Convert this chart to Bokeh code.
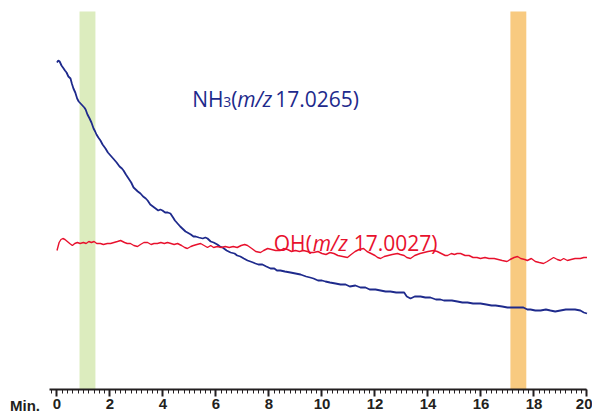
from bokeh.plotting import figure
from bokeh.models import Range1d, BoxAnnotation, Label, LinearAxis, SingleIntervalTicker, Div
from bokeh.layouts import row
from bokeh.embed import file_html
from bokeh.resources import INLINE

# ---- data (time in min, intensity in arbitrary units) ----
nh3_t = [0.00, 0.05, 0.10, 0.17, 0.25, 0.30, 0.36, 0.43, 0.51, 0.56, 0.62, 0.69, 0.76, 0.82, 0.89, 0.96,
         1.03, 1.08, 1.15, 1.23, 1.30, 1.38, 1.44, 1.49, 1.56, 1.64, 1.72, 1.83, 1.92, 2.02, 2.12, 2.25,
         2.36, 2.45, 2.51, 2.60, 2.70, 2.80, 2.89, 2.97, 3.05, 3.15, 3.25, 3.35, 3.42, 3.52, 3.62, 3.72,
         3.82, 3.90, 3.98, 4.08, 4.18, 4.28, 4.38, 4.45, 4.55, 4.65, 4.77, 4.85, 4.92, 5.05, 5.15, 5.23,
         5.35, 5.50, 5.60, 5.68, 5.80, 5.91, 6.05, 6.15, 6.25, 6.40, 6.55, 6.70, 6.80, 6.92, 7.05, 7.19,
         7.30, 7.40, 7.49, 7.60, 7.75, 7.90, 8.06, 8.20, 8.30, 8.43, 8.60, 8.81, 9.00, 9.19, 9.40, 9.55,
         9.68, 9.85, 10.00, 10.13, 10.30, 10.51, 10.70, 10.89, 11.05, 11.26, 11.45, 11.64, 11.80, 12.02,
         12.21, 12.40, 12.58, 12.80, 12.96, 13.10, 13.20, 13.34, 13.50, 13.72, 13.90, 14.09, 14.30, 14.47,
         14.60, 14.74, 14.90, 15.11, 15.30, 15.49, 15.70, 15.98, 16.20, 16.40, 16.55, 16.80, 17.00, 17.11,
         17.30, 17.60, 17.75, 17.87, 18.05, 18.25, 18.45, 18.62, 18.80, 19.00, 19.20, 19.38, 19.55, 19.75,
         19.88, 20.00]
nh3_v = [326, 328, 327, 323, 320, 318, 316, 312, 310, 305, 300, 296, 290, 287, 285, 283,
         281, 279, 274, 270, 266, 260, 257, 254, 251, 248, 244, 240, 236, 233, 230, 226,
         222, 220, 218, 214, 210, 206, 201, 199, 197, 195, 192, 190, 188, 184, 182, 180,
         178, 179, 178, 176, 176, 175, 171, 168, 165, 162, 159, 157, 156, 154, 152, 152,
         151, 150, 151, 150, 147, 146, 144, 142, 141, 138, 136, 135, 133, 132, 130, 128,
         127, 126, 125, 124, 124, 122, 120, 120, 118, 118, 117, 116, 115, 114, 112, 111,
         110, 108, 108, 107, 106, 105, 104, 104, 102, 103, 101, 101, 99, 99,
         98, 97, 97, 96, 96, 96, 92, 90, 92, 92, 91, 91, 89, 89,
         88, 88, 88, 87, 86, 86, 85, 85, 84, 83, 83, 82, 81, 81,
         81, 81, 79, 79, 78, 78, 79, 78, 77, 78, 79, 79, 79, 78,
         76, 75]

oh_t = [0.00, 0.08, 0.15, 0.22, 0.30, 0.39, 0.48, 0.58, 0.67, 0.77, 0.87, 1.00, 1.10, 1.20, 1.30, 1.40,
        1.50, 1.64, 1.75, 1.90, 2.02, 2.15, 2.28, 2.40, 2.55, 2.65, 2.77, 2.90, 3.04, 3.15, 3.28, 3.42,
        3.55, 3.66, 3.79, 3.92, 4.05, 4.17, 4.30, 4.42, 4.55, 4.70, 4.82, 4.92, 5.05, 5.15, 5.28, 5.42,
        5.55, 5.68, 5.80, 5.91, 6.05, 6.20, 6.35, 6.50, 6.65, 6.80, 6.95, 7.08, 7.19, 7.35, 7.50, 7.68,
        7.80, 7.95, 8.10, 8.25, 8.43, 8.55, 8.70, 8.85, 9.00, 9.15, 9.30, 9.45, 9.56, 9.68, 9.85, 10.00,
        10.15, 10.30, 10.45, 10.60, 10.78, 10.96, 11.10, 11.25, 11.40, 11.57, 11.70, 11.85, 12.00, 12.10,
        12.21, 12.35, 12.50, 12.65, 12.85, 12.96, 13.10, 13.20, 13.34, 13.50, 13.70, 13.85, 14.00, 14.21,
        14.35, 14.50, 14.65, 14.74, 14.88, 15.00, 15.10, 15.23, 15.40, 15.55, 15.70, 15.85, 15.98, 16.15,
        16.30, 16.50, 16.65, 16.80, 16.98, 17.10, 17.25, 17.38, 17.50, 17.65, 17.75, 17.90, 18.05, 18.20,
        18.36, 18.50, 18.62, 18.74, 18.88, 19.00, 19.12, 19.26, 19.40, 19.55, 19.75, 19.88, 20.00]
oh_v = [138, 146, 149, 150, 149, 147, 145, 143, 145, 146, 145, 146, 145, 147, 146, 147,
        145, 145, 144, 145, 145, 146, 147, 148, 146, 145, 145, 143, 142, 144, 146, 146,
        144, 145, 145, 146, 145, 146, 145, 144, 145, 143, 141, 140, 142, 143, 144, 145,
        143, 141, 143, 141, 142, 141, 142, 141, 142, 141, 143, 144, 143, 140, 137, 136,
        138, 140, 139, 138, 138, 140, 139, 137, 138, 137, 138, 137, 136, 136, 137, 135,
        134, 136, 135, 133, 132, 131, 134, 137, 139, 140, 137, 135, 133, 131,
        130, 132, 133, 134, 135, 134, 133, 131, 130, 133, 135, 136, 137, 138,
        137, 135, 133, 133, 135, 134, 135, 135, 133, 133, 131, 131, 130, 131,
        130, 130, 129, 128, 127, 129, 131, 132, 130, 129, 128, 130, 127, 126,
        125, 127, 129, 131, 129, 128, 130, 128, 129, 130, 130, 131, 131]

band_green = [0.85, 1.45]
band_orange = [17.11, 17.71]
x_ticks_interval = 2
x_axis_end = 20

NAVY = "#1e2a8c"
RED = "#e8112d"
DARK = "#231f20"

x_start = -0.283
p = figure(width=543, height=418, output_backend="svg", toolbar_location=None,
           x_range=Range1d(x_start, 20.208), y_range=Range1d(-1, 388),
           x_axis_location=None, y_axis_location=None,
           min_border_left=0, min_border_right=0, min_border_top=0, min_border_bottom=29)
p.outline_line_color = None
p.xgrid.visible = False
p.ygrid.visible = False
p.background_fill_color = "white"
p.border_fill_color = "white"

p.add_layout(BoxAnnotation(left=band_green[0], right=band_green[1], bottom=-1, top=377,
                           fill_color="#dcecbe", fill_alpha=1, line_alpha=0, level="underlay"))
p.add_layout(BoxAnnotation(left=band_orange[0], right=band_orange[1], bottom=-1, top=377,
                           fill_color="#f8ca80", fill_alpha=1, line_alpha=0, level="underlay"))

p.line(nh3_t, nh3_v, line_color=NAVY, line_width=1.8)
p.line(oh_t, oh_v, line_color=RED, line_width=1.4)

ax = LinearAxis(ticker=SingleIntervalTicker(interval=x_ticks_interval, num_minor_ticks=10))
ax.bounds = (x_start, x_axis_end)
ax.axis_line_width = 2
ax.axis_line_color = DARK
ax.major_tick_in = 0
ax.major_tick_out = 7
ax.major_tick_line_width = 2
ax.major_tick_line_color = DARK
ax.minor_tick_in = 0
ax.minor_tick_out = 4
ax.minor_tick_line_width = 1
ax.minor_tick_line_color = DARK
ax.major_label_text_font = "Liberation Sans"
ax.major_label_text_font_style = "bold"
ax.major_label_text_font_size = "15px"
ax.major_label_text_color = DARK
ax.major_label_standoff = 2
p.add_layout(ax, "below")

FS = "21px"
FONT = "Open Sans"

def add_label(x0, y0, color, parts):
    for dx, dy, txt, size, style in parts:
        p.add_layout(Label(x=x0, y=y0, x_offset=dx, y_offset=dy, text=txt, text_font=FONT,
                           text_font_size=size, text_font_style=style, text_color=color,
                           text_baseline="alphabetic"))

add_label(5.10, 290, NAVY, [
    (0, 0, "NH", FS, "normal"),
    (31, -3, "3", "14px", "normal"),
    (39, 0, "(", FS, "normal"),
    (45, 0, "m/z", FS, "italic"),
    (83, 0, "17.0265)", FS, "normal"),
])
add_label(8.18, 146, RED, [
    (0, 0, "OH", FS, "normal"),
    (32, 0, "(", FS, "normal"),
    (39, 0, "m/z", FS, "italic"),
    (80, 0, "17.0027)", FS, "normal"),
])

min_div = Div(text='<div style="position:absolute; left:10px; top:398px; font-family:\'Liberation Sans\'; '
                   'font-weight:bold; font-size:15px; line-height:15px; color:#231f20; '
                   'white-space:nowrap;">Min.</div>',
              width=49, height=418, margin=0)

layout = row(min_div, p, spacing=0)
open("out.html", "w").write(file_html(layout, INLINE))
